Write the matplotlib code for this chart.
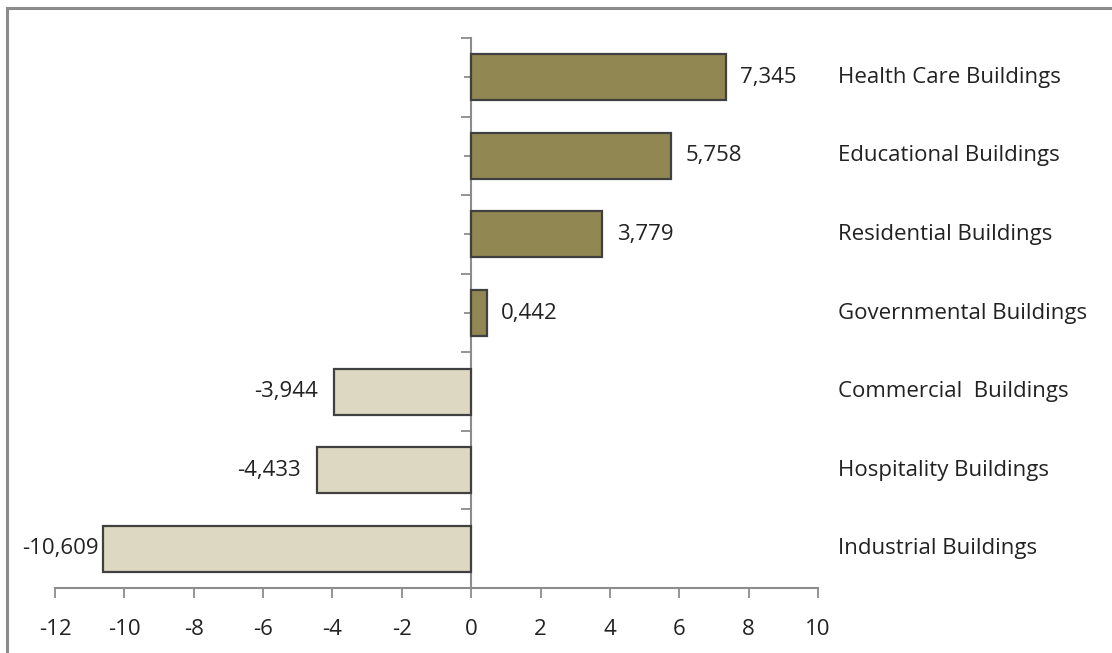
import matplotlib
matplotlib.use("Agg")
import matplotlib.pyplot as plt
from matplotlib.patches import Rectangle
from matplotlib.ticker import FixedLocator

plt.rcParams["font.family"] = ["Open Sans", "DejaVu Sans"]

categories = ["Industrial Buildings", "Hospitality Buildings", "Commercial  Buildings",
              "Governmental Buildings", "Residential Buildings", "Educational Buildings",
              "Health Care Buildings"]
values = [-10.609, -4.433, -3.944, 0.442, 3.779, 5.758, 7.345]
xticks = [-12, -10, -8, -6, -4, -2, 0, 2, 4, 6, 8, 10]

POS = "#918752"
NEG = "#DDD8C2"
AXC = "#8C8C8C"
TXT = "#222222"
FS = 16

fig = plt.figure(figsize=(11.12, 6.53), dpi=100)
ax = fig.add_axes([0.0495, 0.0995, 0.6861, 0.8423])

ypos = list(range(len(categories)))
cols = [POS if v > 0 else NEG for v in values]
ax.barh(ypos, values, height=0.585, color=cols, edgecolor="#404040", linewidth=1.6, zorder=3)

ax.set_xlim(-12, 10)
ax.set_ylim(-0.5, len(categories) - 0.5)
ax.set_xticks(xticks)
ax.set_xticklabels([str(t) for t in xticks])

ax.yaxis.set_major_locator(FixedLocator([i - 0.5 for i in range(len(categories) + 1)]))
ax.yaxis.set_minor_locator(FixedLocator(ypos))
ax.yaxis.set_ticklabels([])
ax.tick_params(axis="y", which="major", direction="out", length=7, width=1.3, color=AXC, labelleft=False)
ax.tick_params(axis="y", which="minor", direction="out", length=5, width=1.3, color=AXC, labelleft=False)
ax.tick_params(axis="x", direction="out", length=7, width=1.3, color=AXC, pad=15,
               labelsize=FS, labelcolor=TXT)

for s in ["top", "right"]:
    ax.spines[s].set_visible(False)
ax.spines["left"].set_position(("data", 0))
ax.spines["left"].set_color(AXC)
ax.spines["left"].set_linewidth(1.5)
ax.spines["bottom"].set_color(AXC)
ax.spines["bottom"].set_linewidth(1.5)

for y, v in zip(ypos, values):
    lab = f"{v:.3f}".replace(".", ",")
    if v > 0:
        ax.text(v + 0.42, y, lab, ha="left", va="center", fontsize=FS, color=TXT)
    else:
        ax.text(max(v - 0.47, -10.75), y, lab, ha="right", va="center", fontsize=FS, color=TXT)
    ax.text(10.58, y, categories[y], ha="left", va="center", fontsize=FS, color=TXT,
            clip_on=False)

# outer frame
fig.patches.append(Rectangle((7 / 1112, -0.1), 1.2, 1 - 8 / 653 + 0.1, transform=fig.transFigure,
                             fill=False, edgecolor="#8C8C8C", linewidth=2.2))

fig.savefig("out.png", dpi=100)
